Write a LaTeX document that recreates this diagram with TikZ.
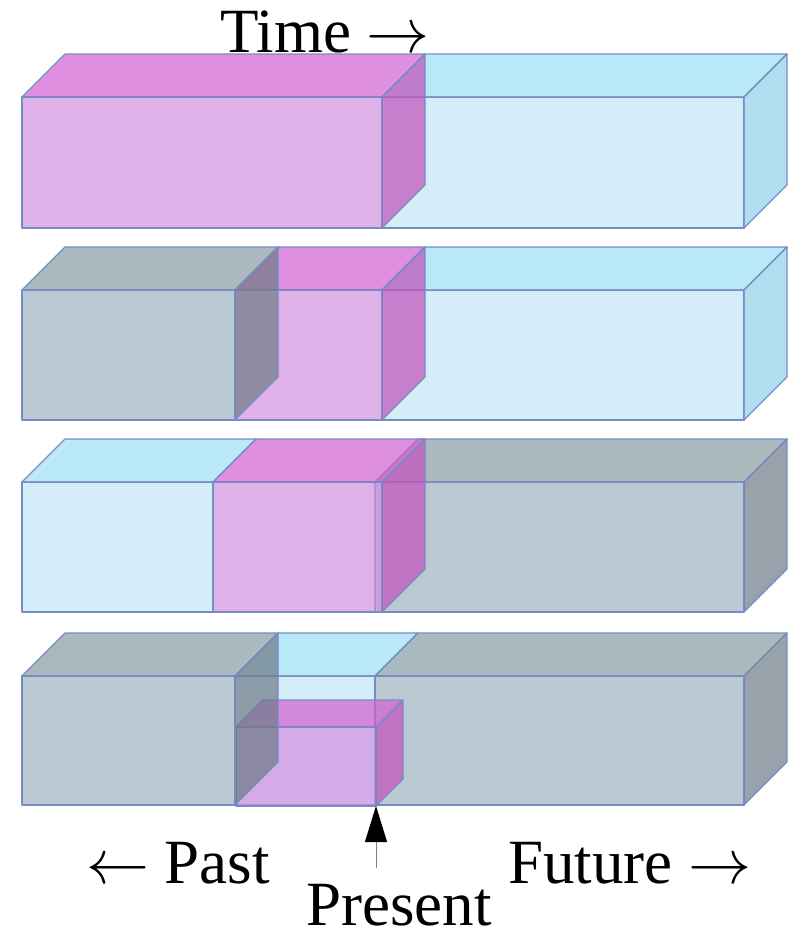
\RequirePackage{fix-cm}
\documentclass[tikz,border=0pt]{standalone}
\usepackage{fontspec}
\setmainfont{Liberation Serif}
\usetikzlibrary{arrows.meta}

% face colours (drawn at fill opacity .7)
\definecolor{magfront}{RGB}{209,144,224}
\definecolor{magtop}{RGB}{209,95,209}
\definecolor{magside}{RGB}{195,79,186}
\definecolor{cyafront}{RGB}{194,229,246}
\definecolor{cyatop}{RGB}{155,222,245}
\definecolor{cyaside}{RGB}{145,206,231}
\definecolor{grafront}{RGB}{158,179,191}
\definecolor{gratop}{RGB}{132,155,162}
\definecolor{graside}{RGB}{110,122,134}
\definecolor{edgeblue}{RGB}{118,140,196}

% #1 left, #2 right, #3 top, #4 bottom, #5 depth, #6 colour
\newcommand{\timefront}[6]{%
 \filldraw[facet, fill=#6front] (#1,#3) rectangle (#2,#4);
 \filldraw[facet, fill=#6top] (#1,#3) -- ++(#5,-#5) -- ++(#2-#1,0) -- (#2,#3) -- cycle;
}
\newcommand{\timebox}[6]{%
 \timefront{#1}{#2}{#3}{#4}{#5}{#6}
 \filldraw[facet, fill=#6side] (#2,#3) -- ++(#5,-#5) -- ++(0,#4-#3) -- (#2,#4) -- cycle;
}

\begin{document}
\begin{tikzpicture}[x=1pt, y=-1pt,
 facet/.style={draw=edgeblue, line width=1.2pt, fill opacity=0.7, line join=round},
 lbl/.style={inner sep=0pt, anchor=base west, text height=44pt, text depth=2pt,
  font=\fontsize{63pt}{70pt}\selectfont}]
\useasboundingbox (0,0) rectangle (798,932);

% row 1
\timebox{382}{744}{97}{228}{43}{cya}
\timebox{22}{382}{97}{228}{43}{mag}

% row 2
\timebox{382}{744}{290}{420}{43}{cya}
\timebox{235}{382}{290}{420}{43}{mag}
\timebox{22}{235}{290}{420}{43}{gra}

% row 3
\timefront{22}{213}{482}{612}{43}{cya}
\timebox{375}{744}{482}{612}{43}{gra}
\timebox{213}{382}{482}{612}{43}{mag}

% row 4
\timefront{235}{375}{676}{805}{43}{cya}
\timebox{375}{744}{676}{805}{43}{gra}
\timebox{236}{376}{727}{806}{27}{mag}
\timebox{22}{235}{676}{805}{43}{gra}

\node[lbl] (time) at (220,52) {Time $\rightarrow$};
\node[lbl] (past) at (86,883) {$\leftarrow$ Past};
\node[lbl] (future) at (508,883) {Future $\rightarrow$};
\node[lbl] (present) at (306,925) {Present};

\coordinate (now) at (376,806);
\coordinate (stem) at (376,868);
\draw[gray, line width=1pt, -{Triangle[length=36pt, width=22pt, color=black]}] (stem) -- (now);

\end{tikzpicture}
\end{document}
